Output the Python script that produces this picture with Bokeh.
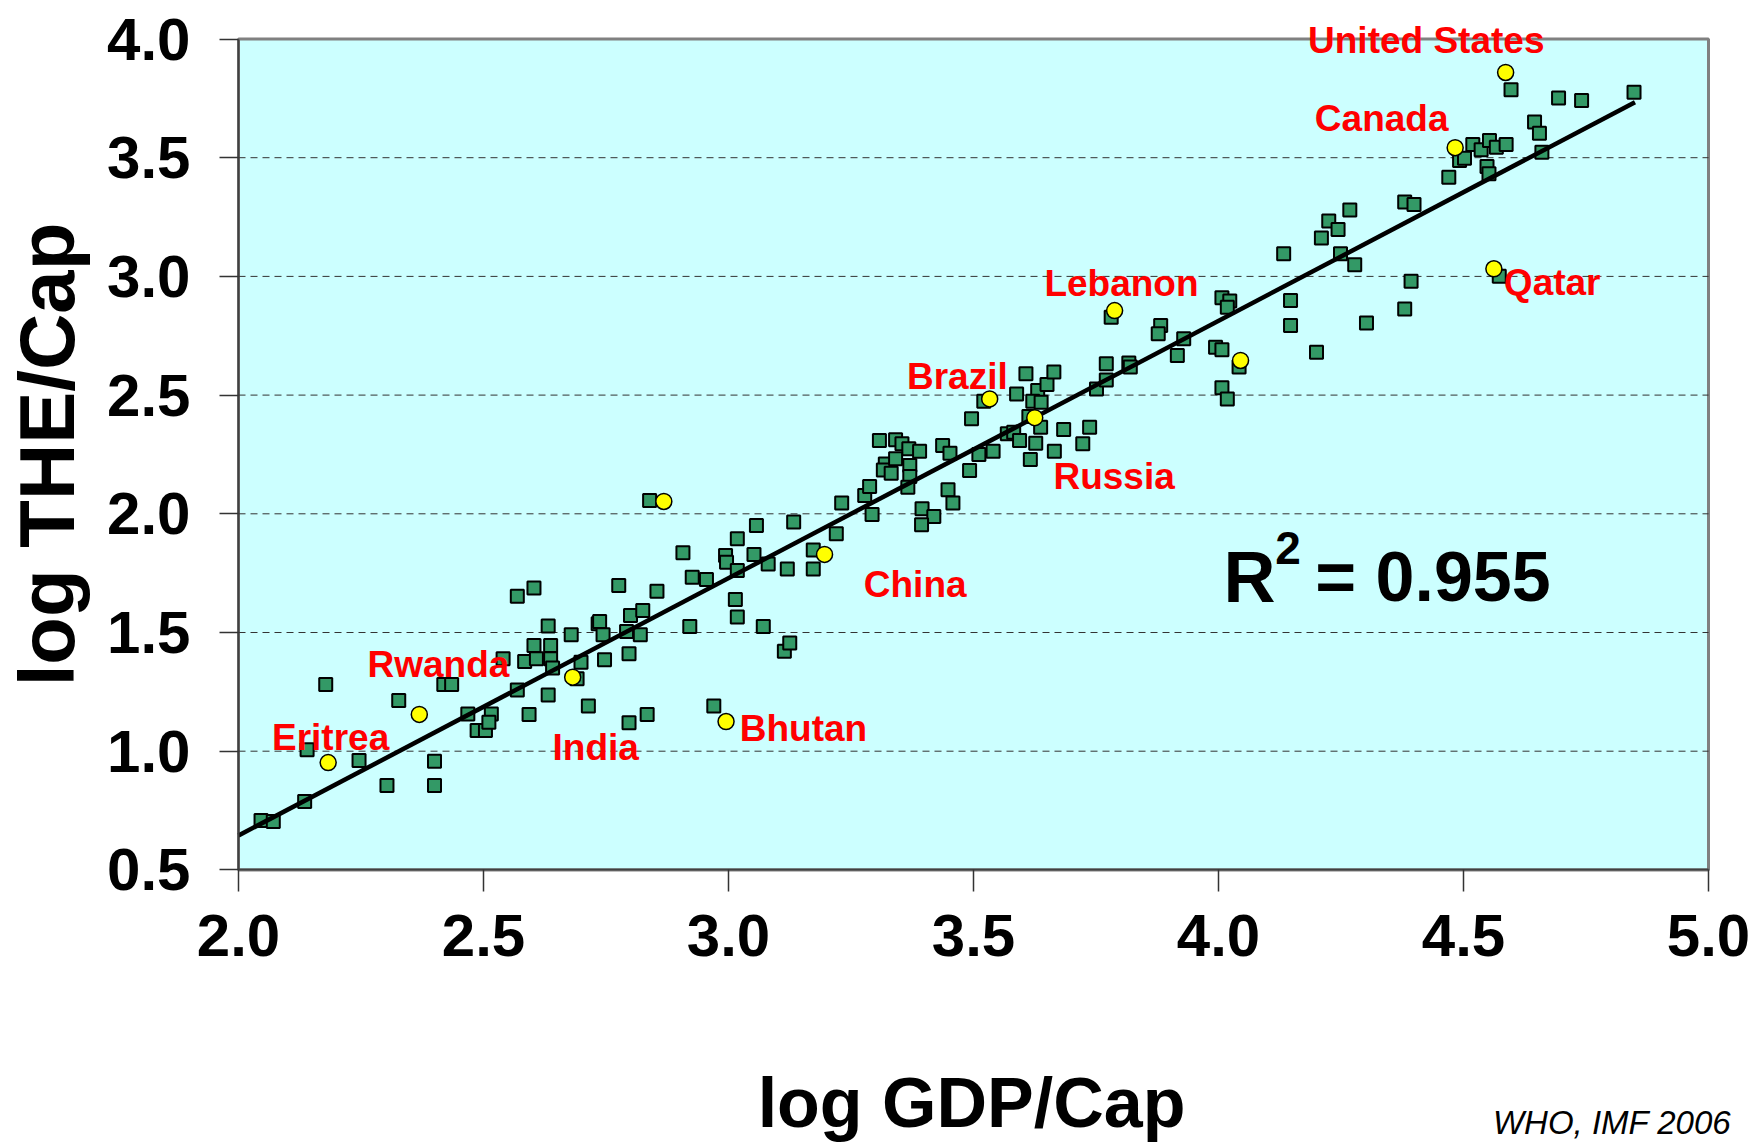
from bokeh.plotting import figure
from bokeh.models import (Range1d, FixedTicker, PrintfTickFormatter, Label, LinearAxis,
                          BoxAnnotation)
from bokeh.embed import file_html
from bokeh.resources import INLINE

# ---------------- data ----------------
green_x = [2.046, 2.071, 2.135, 2.140, 2.178, 2.246, 2.303, 2.327, 2.400, 2.400,
           2.419, 2.435, 2.468, 2.487, 2.504, 2.516, 2.511, 2.540, 2.569, 2.569,
           2.603, 2.584, 2.603, 2.608, 2.632, 2.637, 2.637, 2.641, 2.632, 2.593,
           2.679, 2.691, 2.699, 2.714, 2.734, 2.737, 2.744, 2.747, 2.776, 2.800,
           2.792, 2.797, 2.825, 2.820, 2.797, 2.834, 2.854, 2.839, 2.907, 2.921,
           2.926, 2.955, 2.970, 2.994, 2.996, 3.018, 3.018, 3.014, 3.018, 3.052,
           3.057, 3.081, 3.071, 3.120, 3.133, 3.114, 3.125, 3.173, 3.173, 3.220,
           3.231, 3.278, 3.288, 3.293, 3.308, 3.341, 3.354, 3.368, 3.390, 3.320,
           3.316, 3.341, 3.332, 3.370, 3.370, 3.366, 3.437, 3.452, 3.448, 3.458,
           3.395, 3.419, 3.394, 3.492, 3.511, 3.540, 3.496, 3.521, 3.607, 3.588,
           3.631, 3.650, 3.664, 3.621, 3.638, 3.613, 3.637, 3.569, 3.582, 3.594,
           3.627, 3.616, 3.665, 3.684, 3.723, 3.737, 3.751, 3.771, 3.771, 3.817,
           3.820, 3.781, 3.882, 3.877, 3.929, 3.916, 3.994, 4.007, 4.007, 4.023,
           4.018, 4.042, 4.007, 4.018, 4.133, 4.147, 4.147, 4.200, 4.210, 4.225,
           4.244, 4.249, 4.268, 4.278, 4.302, 4.380, 4.399, 4.393, 4.380, 4.470,
           4.492, 4.502, 4.519, 4.536, 4.553, 4.548, 4.552, 4.567, 4.587, 4.597,
           4.573, 4.645, 4.655, 4.660, 4.694, 4.741, 4.848]
green_y = [0.708, 0.704, 0.788, 1.006, 1.281, 0.961, 0.856, 1.214, 0.958, 0.856,
           1.281, 1.281, 1.157, 1.087, 1.087, 1.157, 1.122, 1.389, 1.258, 1.653,
           1.687, 1.378, 1.445, 1.389, 1.527, 1.445, 1.389, 1.350, 1.237, 1.155,
           1.490, 1.305, 1.375, 1.190, 1.537, 1.546, 1.490, 1.385, 1.698, 1.572,
           1.504, 1.410, 1.593, 1.490, 1.120, 1.155, 1.674, 2.056, 1.836, 1.525,
           1.733, 1.723, 1.190, 1.824, 1.796, 1.895, 1.761, 1.639, 1.565, 1.829,
           1.951, 1.789, 1.525, 1.768, 1.965, 1.421, 1.456, 1.848, 1.768, 1.916,
           2.045, 2.077, 2.115, 1.997, 2.309, 2.312, 2.295, 2.274, 2.264, 2.210,
           2.185, 2.232, 2.171, 2.203, 2.157, 2.112, 2.288, 2.255, 2.101, 2.045,
           2.021, 1.989, 1.954, 2.182, 2.250, 2.264, 2.400, 2.474, 2.590, 2.505,
           2.519, 2.545, 2.597, 2.474, 2.470, 2.410, 2.365, 2.337, 2.344, 2.309,
           2.297, 2.229, 2.264, 2.355, 2.295, 2.365, 2.526, 2.632, 2.564, 2.635,
           2.618, 2.828, 2.793, 2.758, 2.737, 2.667, 2.702, 2.691, 2.910, 2.896,
           2.870, 2.618, 2.531, 2.484, 3.095, 2.899, 2.793, 2.681, 3.162, 3.233,
           3.198, 3.095, 3.280, 3.049, 2.804, 3.313, 3.303, 2.980, 2.863, 3.418,
           3.488, 3.498, 3.556, 3.533, 3.572, 3.463, 3.432, 3.544, 3.556, 3.786,
           3.001, 3.650, 3.603, 3.523, 3.751, 3.741, 3.776]

yellow_x = [2.183, 2.369, 2.682, 2.868, 2.995, 3.196, 3.533, 3.625, 3.788, 4.045, 4.483, 4.562, 4.586]
yellow_y = [0.952, 1.155, 1.312, 2.052, 1.125, 1.829, 2.484, 2.405, 2.856, 2.646, 3.542, 3.032, 3.859]

label_names = ["United States", "Canada", "Qatar", "Lebanon", "Brazil", "Russia",
               "China", "Bhutan", "India", "Eritrea", "Rwanda"]
label_x = [4.424, 4.333, 4.681, 3.802, 3.467, 3.787, 3.381, 3.153, 2.729, 2.188, 2.408]
label_y = [3.993, 3.664, 2.974, 2.969, 2.578, 2.156, 1.701, 1.095, 1.015, 1.057, 1.364]

trend_x = [2.0, 4.85]
trend_y = [0.645, 3.734]

r2_text = "0.955"
x_ticks = [2.0, 2.5, 3.0, 3.5, 4.0, 4.5, 5.0]
y_ticks = [0.5, 1.0, 1.5, 2.0, 2.5, 3.0, 3.5, 4.0]
grid_ticks = [1.0, 1.5, 2.0, 2.5, 3.0, 3.5]

FONT = "Liberation Sans"

# Plot area runs 2.0-5.0 / 0.5-4.0; the frame covers the whole page so that the
# titles and the source note around it are drawn with the same scales.
W, H = 1751, 1142
LEFT_PX, RIGHT_PX, TOP_PX, BOTTOM_PX = 238.0, 1708.0, 38.5, 869.4
x0, x1 = x_ticks[0], x_ticks[-1]
y0, y1 = y_ticks[0], y_ticks[-1]
ppx = (RIGHT_PX - LEFT_PX) / (x1 - x0)
ppy = (BOTTOM_PX - TOP_PX) / (y1 - y0)
x_range = Range1d(x0 - LEFT_PX / ppx, x1 + (W - RIGHT_PX) / ppx)
y_range = Range1d(y0 - (H - BOTTOM_PX) / ppy, y1 + TOP_PX / ppy)

p = figure(width=W, height=H, output_backend="svg", toolbar_location=None,
           x_range=x_range, y_range=y_range,
           x_axis_location=None, y_axis_location=None,
           min_border=0, min_border_left=0, min_border_right=0,
           min_border_top=0, min_border_bottom=0,
           background_fill_color="white", border_fill_color="white")
p.outline_line_color = None
p.xgrid.visible = False
p.ygrid.visible = False
for g in p.grid:
    g.visible = False

# plot-area background with its grey top/right border
p.add_layout(BoxAnnotation(left=x0, right=x1, bottom=y0, top=y1,
                           fill_color="#CCFFFF", fill_alpha=1.0,
                           line_color="#808080", line_width=3, line_alpha=1.0,
                           level="image"))

# dashed horizontal gridlines across the plot area only
p.segment(x0=[x0] * len(grid_ticks), x1=[x1] * len(grid_ticks), y0=grid_ticks, y1=grid_ticks,
          line_color="#333333", line_width=1, line_dash="7 5", level="underlay")


def style_axis(ax):
    ax.formatter = PrintfTickFormatter(format="%.1f")
    ax.minor_tick_line_color = None
    ax.major_tick_in = 0
    ax.major_tick_line_color = "#333333"
    ax.major_tick_line_width = 1.5
    ax.axis_line_color = "#404040"
    ax.axis_line_width = 2
    ax.major_label_text_font = FONT
    ax.major_label_text_font_style = "bold"
    ax.major_label_text_font_size = "60px"
    ax.major_label_text_color = "black"


yaxis = LinearAxis(fixed_location=x0, bounds=(y0, y1), ticker=FixedTicker(ticks=y_ticks))
style_axis(yaxis)
yaxis.major_tick_out = 19
yaxis.major_label_standoff = 29
yaxis.axis_label = "log THE/Cap"
yaxis.axis_label_text_font = FONT
yaxis.axis_label_text_font_style = "bold"
yaxis.axis_label_text_color = "black"
yaxis.axis_label_text_font_size = "78px"
yaxis.axis_label_standoff = 13
p.add_layout(yaxis, "left")

xaxis = LinearAxis(fixed_location=y0, bounds=(x0, x1), ticker=FixedTicker(ticks=x_ticks))
style_axis(xaxis)
xaxis.major_tick_out = 22
xaxis.major_label_standoff = 23
p.add_layout(xaxis, "below")

# ---------------- glyphs ----------------
p.scatter(green_x, green_y, marker="square", size=13, fill_color="#339966",
          line_color="black", line_width=2)
p.line(trend_x, trend_y, line_color="black", line_width=4.5)
p.scatter(yellow_x, yellow_y, marker="circle", size=16, fill_color="#FFFF00",
          line_color="black", line_width=1.5)

for name, lx, ly in zip(label_names, label_x, label_y):
    p.add_layout(Label(x=lx, y=ly, text=name, text_color="#FF0000", text_font=FONT,
                       text_font_style="bold", text_font_size="37px",
                       text_align="center", text_baseline="alphabetic"))

# R^2 annotation
p.add_layout(Label(x=4.010, y=1.732, text="R", text_color="black", text_font=FONT,
                   text_font_style="bold", text_font_size="72px",
                   text_align="left", text_baseline="alphabetic"))
p.add_layout(Label(x=4.116, y=1.858, text="2", text_color="black", text_font=FONT,
                   text_font_style="bold", text_font_size="46px",
                   text_align="left", text_baseline="alphabetic"))
p.add_layout(Label(x=4.678, y=1.732, text="= " + r2_text, text_color="black", text_font=FONT,
                   text_font_style="bold", text_font_size="70px",
                   text_align="right", text_baseline="alphabetic"))

# x-axis title
p.add_layout(Label(x=3.496, y=-0.483, text="log GDP/Cap", text_color="black", text_font=FONT,
                   text_font_style="bold", text_font_size="70px",
                   text_align="center", text_baseline="alphabetic"))

# source note
p.add_layout(Label(x=4.560, y=-0.565, text="WHO, IMF 2006", text_color="black", text_font=FONT,
                   text_font_style="italic", text_font_size="33px",
                   text_align="left", text_baseline="alphabetic"))

open("out.html", "w").write(file_html(p, INLINE))
